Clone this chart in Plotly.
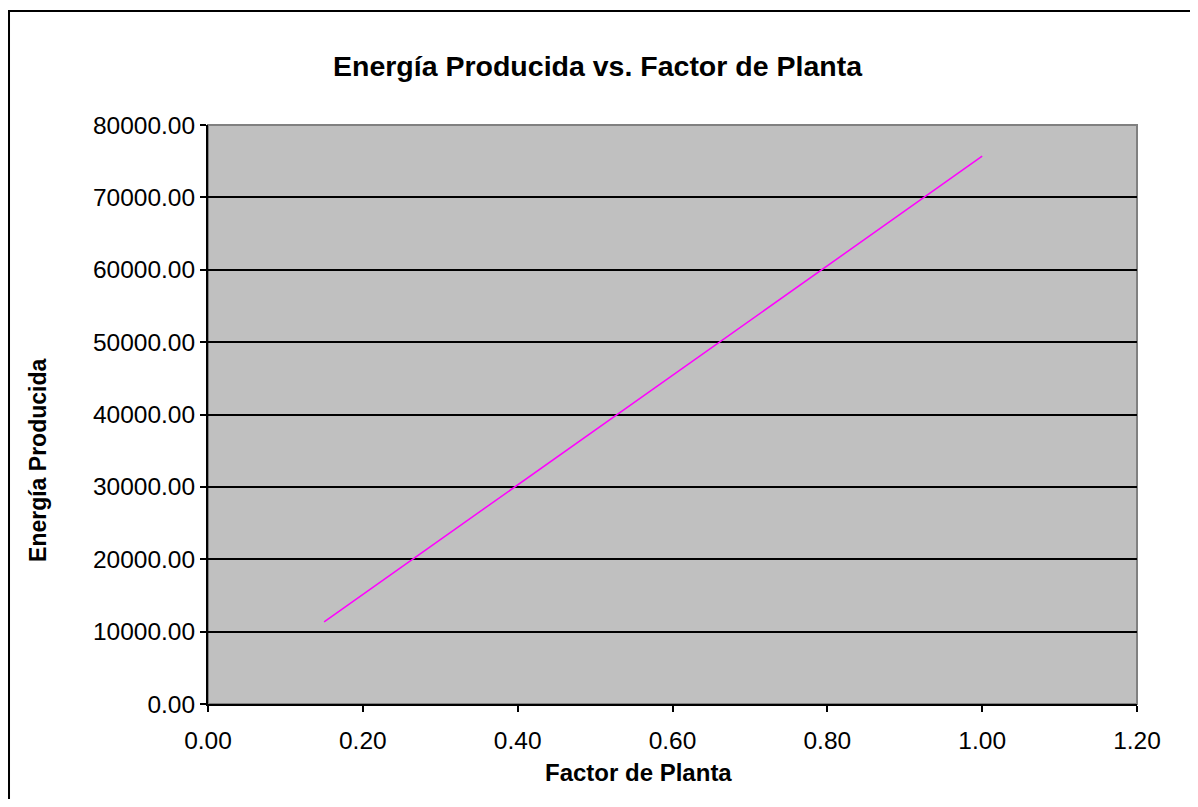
import plotly.graph_objects as go

# plant factor vs produced energy
factor_planta = [0.15, 0.20, 0.25, 0.30, 0.35, 0.40, 0.45, 0.50, 0.55,
                 0.60, 0.65, 0.70, 0.75, 0.80, 0.85, 0.90, 0.95, 1.00]
energia = [11353, 15137, 18922, 22706, 26490, 30274, 34059, 37843, 41627,
           45412, 49196, 52980, 56765, 60549, 64333, 68117, 71902, 75686]

titulo = "Energía Producida vs. Factor de Planta"
titulo_x = "Factor de Planta"
titulo_y = "Energía Producida"

FONT = "Liberation Sans, Arial, sans-serif"

fig = go.Figure()
fig.add_trace(go.Scatter(
    x=factor_planta, y=energia,
    mode="lines",
    line=dict(color="#FF00FF", width=1.5),
    showlegend=False,
))

# gray frame on top/right of the plot area
fig.add_shape(type="rect", xref="paper", yref="paper", x0=0, x1=1, y0=0, y1=1,
              line=dict(color="#808080", width=2), layer="below")
# outer chart border (runs off the right/bottom edge)
fig.add_shape(type="rect", xref="paper", yref="paper",
              x0=-0.2142, x1=1.12, y0=-0.25, y1=1.1969,
              line=dict(color="black", width=2))

fig.add_annotation(text="<b>" + titulo + "</b>", xref="paper", yref="paper",
                   x=0.42, y=1.133, showarrow=False,
                   font=dict(family=FONT, size=28.5, color="black"))
fig.add_annotation(text="<b>" + titulo_x + "</b>", xref="paper", yref="paper",
                   x=0.463, y=-0.145, showarrow=False,
                   font=dict(family=FONT, size=24, color="black"))
fig.add_annotation(text="<b>" + titulo_y + "</b>", xref="paper", yref="paper",
                   x=-0.199, y=0.42, showarrow=False, textangle=-90,
                   font=dict(family=FONT, size=23, color="black"))

fig.update_xaxes(
    range=[0, 1.2], dtick=0.2, tickformat=".2f",
    showgrid=False, zeroline=False,
    showline=True, linecolor="black", linewidth=2,
    ticks="outside", ticklen=6, tickcolor="black", tickwidth=1.5,
    ticklabelstandoff=8,
    tickfont=dict(family=FONT, size=24.5, color="black"),
)
fig.update_yaxes(
    range=[0, 80000], dtick=10000, tickformat=".2f",
    showgrid=True, gridcolor="black", gridwidth=1.5, zeroline=False,
    showline=True, linecolor="black", linewidth=2,
    ticks="outside", ticklen=6, tickcolor="black", tickwidth=1.5,
    tickfont=dict(family=FONT, size=24.5, color="black"),
)

# page body has an 8px margin, so the figure is sized to fit inside it
fig.update_layout(
    width=1182, height=791,
    margin=dict(l=200, r=53, t=117, b=95),
    paper_bgcolor="white",
    plot_bgcolor="#C0C0C0",
    font=dict(family=FONT, color="black"),
    showlegend=False,
)

fig.write_html("out.html")
